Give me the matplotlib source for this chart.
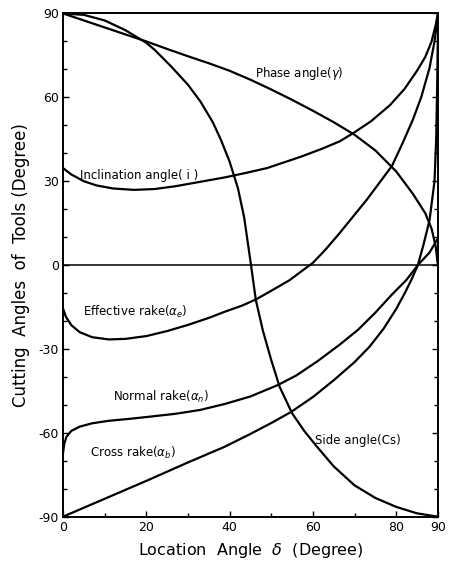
import numpy as np
import matplotlib
matplotlib.use("Agg")
import matplotlib.pyplot as plt
from matplotlib.ticker import FixedLocator

plt.rcParams['font.family'] = ['DejaVu Sans']
plt.rcParams['mathtext.fontset'] = 'dejavusans'
plt.rcParams['axes.unicode_minus'] = False

# location angle delta (deg) and cutting angles (deg) for each tool angle
phase_x = [0, 5, 10, 15, 20, 25, 30, 35, 40, 45, 50, 55, 60, 65, 70, 75, 80, 84, 87, 88.5, 89.5, 90]
phase_y = [90, 87.5, 85, 82.5, 80, 77.3, 74.7, 72.2, 69.5, 66.3, 62.8, 59.1, 55.2, 51.1, 46.6, 41, 33.5, 25.5, 18.5, 13, 6.5, 0]

side_x = [0, 5, 10, 15, 20, 22, 26, 30, 33, 36, 38, 40, 42, 43.5, 45, 46.3, 48, 50, 52, 55, 58, 61, 65, 70, 75, 80, 85, 90]
side_y = [90, 89.5, 87.5, 84, 79.5, 77, 71, 64.5, 58.5, 51, 44.5, 37, 27.5, 17, 1.5, -12.5, -23.5, -34, -43.5, -53, -59.5, -65, -72, -78.8, -83.3, -86.5, -88.8, -90]

incl_x = [0, 2, 5, 8, 12, 17, 22, 27, 33, 39, 44, 49, 57, 62, 66.5, 70, 74, 78.5, 82, 85, 87, 88.5, 89.5, 90]
incl_y = [34.7, 32.4, 30.0, 28.5, 27.4, 26.9, 27.2, 28.2, 29.8, 31.4, 33, 34.7, 38.7, 41.5, 44.3, 47.5, 51.5, 57.2, 63, 69.5, 74.5, 80, 86, 90]

eff_x = [0, 0.7, 2, 4, 7, 11, 15, 20, 25, 30, 35, 39, 43, 46.3, 50, 54.4, 57, 60, 63, 66.4, 70, 73, 76, 79, 81.5, 84, 86, 88, 89.2, 90]
eff_y = [-15.5, -18.5, -21.5, -24, -25.8, -26.6, -26.4, -25.4, -23.6, -21.4, -18.9, -16.6, -14.5, -12.3, -9.2, -5.4, -2.5, 0.8, 5.5, 11.4, 18, 23.5, 29.5, 35.5, 43.5, 52, 60, 70.5, 80, 89]

norm_x = [0, 0.3, 0.8, 2, 4, 7, 11, 16, 21, 27, 33, 38.8, 45, 51.6, 56, 61, 66.4, 70.8, 75, 79, 82.4, 85.2, 88, 90]
norm_y = [-67.3, -64, -61.5, -59.3, -57.8, -56.6, -55.7, -55, -54.2, -53.2, -51.8, -49.7, -47, -42.9, -39.5, -34.5, -28.5, -23.2, -17, -10.5, -5.4, 0, 4.5, 9.5]

cross_x = [0, 10, 20, 30, 38.8, 45, 50, 54.8, 60, 65, 70, 73.6, 77, 80, 82, 83.6, 85.2, 86.5, 88, 89.2, 89.6, 89.85, 90]
cross_y = [-90, -83.6, -77.2, -70.6, -65, -60.4, -56.5, -52.5, -47.2, -41.2, -34.7, -29.2, -22.7, -15.7, -10.2, -5.4, 0, 7, 16, 30, 45, 65, 82]

x_major = [0, 20, 40, 60, 80, 90]
x_minor = [10, 30, 50, 70]
y_major = [-90, -60, -30, 0, 30, 60, 90]
y_minor = [-80, -70, -50, -40, -20, -10, 10, 20, 40, 50, 70, 80]

fig = plt.figure(figsize=(4.5, 5.61), dpi=100)
ax = fig.add_axes([0.14, 0.079, 0.833, 0.897])

lw = 1.6
for xs, ys in [(phase_x, phase_y), (side_x, side_y), (incl_x, incl_y),
               (eff_x, eff_y), (norm_x, norm_y), (cross_x, cross_y)]:
    ax.plot(xs, ys, color='black', lw=lw, solid_joinstyle='round')

ax.axhline(0, color='black', lw=1.1)

ax.set_xlim(0, 90)
ax.set_ylim(-90, 90)

ax.xaxis.set_major_locator(FixedLocator(x_major))
ax.xaxis.set_minor_locator(FixedLocator(x_minor))
ax.yaxis.set_major_locator(FixedLocator(y_major))
ax.yaxis.set_minor_locator(FixedLocator(y_minor))
ax.tick_params(which='both', direction='in', top=False, right=True,
               labelsize=9, width=1.0, pad=3)
ax.tick_params(which='major', length=4)
ax.tick_params(which='minor', length=3)

for s in ax.spines.values():
    s.set_linewidth(1.4)

ax.set_xlabel(r'Location  Angle  $\delta$  (Degree)', fontsize=11.5, labelpad=5)
ax.set_ylabel('Cutting  Angles  of  Tools (Degree)', fontsize=12, labelpad=6)

fs = 8.5
ax.text(46, 68.6, r'Phase angle($\gamma$)', fontsize=fs, va='center')
ax.text(4.1, 32.2, 'Inclination angle( i )', fontsize=fs, va='center')
ax.text(4.8, -16.7, r'Effective rake($\alpha_e$)', fontsize=fs, va='center')
ax.text(12, -47.1, r'Normal rake($\alpha_n$)', fontsize=fs, va='center')
ax.text(6.5, -67.2, r'Cross rake($\alpha_b$)', fontsize=fs, va='center')
ax.text(60.4, -62.6, 'Side angle(Cs)', fontsize=fs, va='center')

fig.savefig('out.png', dpi=100)
